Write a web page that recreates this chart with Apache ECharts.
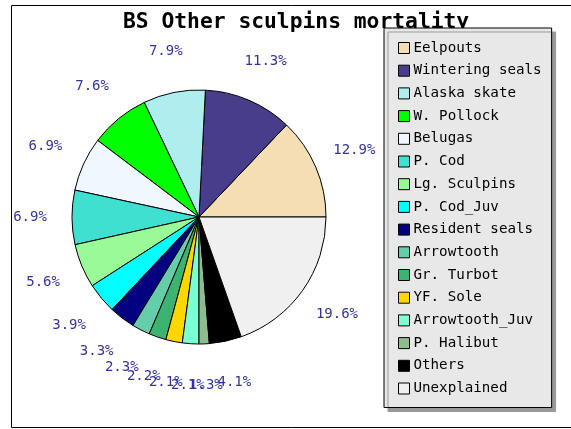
<!DOCTYPE html>
<html>
<head>
<meta charset="utf-8">
<script src="https://cdn.jsdelivr.net/npm/echarts@6/dist/echarts.min.js"></script>
<style>
  html, body { margin: 0; padding: 0; background: #fff; }
  #main { width: 571px; height: 429px; }
</style>
</head>
<body>
<div id="main"></div>
<script>
var categories = ['Eelpouts', 'Wintering seals', 'Alaska skate', 'W. Pollock', 'Belugas', 'P. Cod',
    'Lg. Sculpins', 'P. Cod_Juv', 'Resident seals', 'Arrowtooth', 'Gr. Turbot', 'YF. Sole',
    'Arrowtooth_Juv', 'P. Halibut', 'Others', 'Unexplained'];
var percents = [12.9, 11.3, 7.9, 7.6, 6.9, 6.9, 5.6, 3.9, 3.3, 2.3, 2.2, 2.1, 2.1, 1.3, 4.1, 19.6];
var colors = ['#f5deb3', '#483d8b', '#afeeee', '#00ff00', '#f0f8ff', '#40e0d0', '#98fb98', '#00ffff',
    '#000080', '#66cdaa', '#3cb371', '#ffd700', '#7fffd4', '#8fbc8f', '#000000', '#f0f0f0'];

var font = '"DejaVu Sans Mono", monospace';

var chartDom = document.getElementById('main');
var myChart = echarts.init(chartDom, null, { renderer: 'canvas' });

var pieData = categories.map(function (name, i) {
    return { name: name, value: percents[i], itemStyle: { color: colors[i] } };
});
var labelData = categories.map(function (name, i) {
    return { name: name, value: percents[i] };
});

var option = {
    backgroundColor: '#ffffff',
    animation: false,
    title: {
        text: 'BS Other sculpins mortality',
        left: 123,
        top: 12,
        padding: 0,
        z: 2,
        textStyle: {
            fontFamily: font,
            fontSize: 21.3,
            fontWeight: 'bold',
            color: '#000'
        }
    },
    graphic: [
        {
            type: 'rect',
            z: -1,
            shape: { x: 11.5, y: 5.5, width: 575, height: 422 },
            style: { fill: 'none', stroke: '#000', lineWidth: 1 }
        }
    ],
    legend: {
        orient: 'vertical',
        left: 384,
        top: 28,
        z: 8,
        padding: [13, 10, 12, 14],
        itemWidth: 11,
        itemHeight: 11,
        itemGap: 8.7,
        icon: 'rect',
        backgroundColor: '#e8e8e8',
        borderColor: '#000',
        borderWidth: 1,
        shadowColor: '#999',
        shadowOffsetX: 4,
        shadowOffsetY: 4,
        shadowBlur: 0,
        data: categories,
        itemStyle: { borderColor: '#000', borderWidth: 1 },
        textStyle: {
            fontFamily: font,
            fontSize: 14.2,
            lineHeight: 14,
            color: '#000',
            padding: [0, 0, 0, -1]
        }
    },
    series: [
        {
            name: 'mortality',
            type: 'pie',
            center: [199, 217],
            radius: [0, 127],
            startAngle: 0,
            clockwise: false,
            avoidLabelOverlap: false,
            silent: true,
            label: { show: false },
            labelLine: { show: false },
            itemStyle: { borderColor: '#000', borderWidth: 1 },
            data: pieData
        },
        {
            name: 'labels',
            type: 'pie',
            center: [199, 217],
            radius: [0, 332],
            startAngle: 0,
            clockwise: false,
            avoidLabelOverlap: false,
            silent: true,
            z: 3,
            itemStyle: { color: 'rgba(0,0,0,0)', borderWidth: 0 },
            label: {
                show: true,
                position: 'inside',
                formatter: '{c}%',
                fontFamily: font,
                fontSize: 14,
                color: '#333399',
                textBorderWidth: 0
            },
            labelLayout: { hideOverlap: false },
            labelLine: { show: false },
            emphasis: { disabled: true },
            data: labelData
        }
    ]
};

myChart.setOption(option);
</script>
</body>
</html>
